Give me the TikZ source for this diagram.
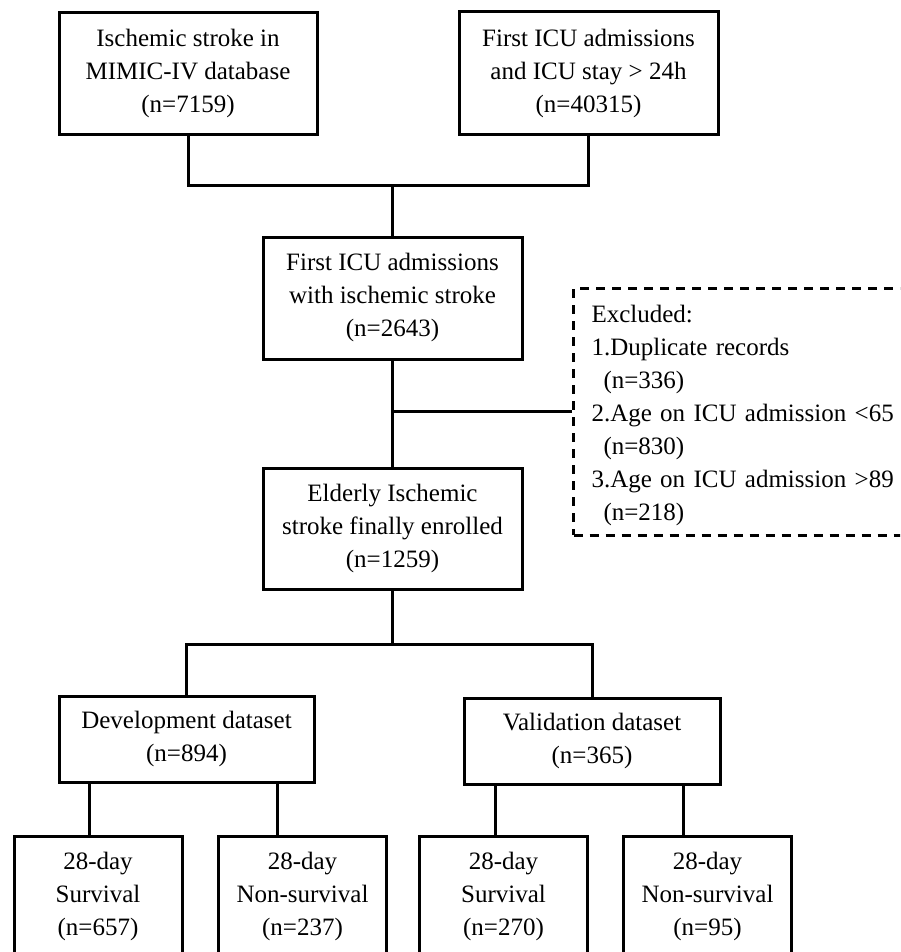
\documentclass[tikz,border=0pt]{standalone}
\usepackage{fontspec}
\setmainfont{Liberation Serif}
\begin{document}
\begin{tikzpicture}[x=1pt,y=-1pt,
  box/.style={draw, line width=3pt, align=center, inner sep=0pt,
    font=\fontsize{25}{33}\selectfont,
    execute at begin node={\rule{0pt}{26pt}},
    execute at end node={\rule[-6pt]{0pt}{6pt}}},
  exclbox/.style={draw, line width=3pt, dash pattern=on 9pt off 7pt,
    align=left, inner xsep=18pt, inner ysep=0pt, text width=312pt,
    minimum height=247pt, font=\fontsize{25}{33}\selectfont,
    execute at begin node={\rule{0pt}{26pt}},
    execute at end node={\rule[-6pt]{0pt}{6pt}}},
  link/.style={line width=3pt}]
\useasboundingbox (0,0) rectangle (900,952);
\clip (0,0) rectangle (900,952);

\node[box, minimum width=258pt, minimum height=122pt] (src) at (188,74)
  {Ischemic stroke in\\MIMIC-IV database\\(n=7159)};
\node[box, minimum width=259pt, minimum height=123pt] (icu) at (588.5,73.5)
  {First ICU admissions\\and ICU stay > 24h\\(n=40315)};
\node[box, minimum width=259pt, minimum height=122pt] (first) at (392.5,298)
  {First ICU admissions\\with ischemic stroke\\(n=2643)};
\node[box, minimum width=259pt, minimum height=121pt] (eld) at (392.5,528.5)
  {Elderly Ischemic\\stroke finally enrolled\\(n=1259)};
\node[exclbox, anchor=west] (excl) at (572,411.5)
  {Excluded:\\1.Duplicate records\\\hspace*{12pt}(n=336)\\2.Age on ICU admission <65\\\hspace*{12pt}(n=830)\\3.Age on ICU admission >89\\\hspace*{12pt}(n=218)};
\node[box, minimum width=255pt, minimum height=86pt] (dev) at (186.5,739)
  {Development dataset\\(n=894)};
\node[box, minimum width=256pt, minimum height=86pt] (val) at (592,741)
  {Validation dataset\\(n=365)};
\node[box, minimum width=168pt, minimum height=122pt] (ds) at (98,897)
  {28-day\\Survival\\(n=657)};
\node[box, minimum width=168pt, minimum height=122pt] (dn) at (302.5,897)
  {28-day\\Non-survival\\(n=237)};
\node[box, minimum width=168pt, minimum height=122pt] (vs) at (503.5,897)
  {28-day\\Survival\\(n=270)};
\node[box, minimum width=168pt, minimum height=122pt] (vn) at (707.5,897)
  {28-day\\Non-survival\\(n=95)};

\coordinate (top) at (392.5,185);
\coordinate (mid) at (392.5,644);
\draw[link] (src.south) |- (top) -| (icu.south);
\draw[link] (top) -- (first.north);
\draw[link] (first.south) -- (eld.north);
\draw[link] (excl.west -| first.south) -- (excl.west);
\draw[link] (eld.south) -- (mid);
\draw[link] (dev.north) |- (mid) -| (val.north);
\draw[link] (89,0 |- dev.south) -- (89,0 |- ds.north);
\draw[link] (277,0 |- dev.south) -- (277,0 |- dn.north);
\draw[link] (495,0 |- val.south) -- (495,0 |- vs.north);
\draw[link] (683,0 |- val.south) -- (683,0 |- vn.north);
\end{tikzpicture}
\end{document}
